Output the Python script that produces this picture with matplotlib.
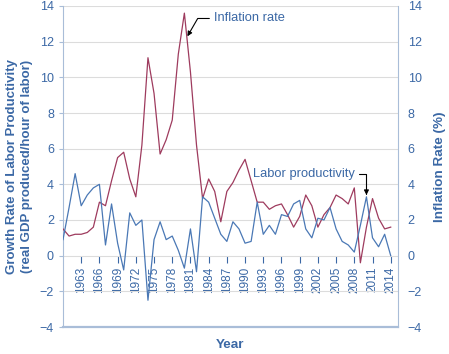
import matplotlib
matplotlib.use("Agg")
import matplotlib.pyplot as plt

# years 1960-2014
years = list(range(1960, 2015))

# labor productivity growth (%)
productivity = [0.9, 2.7, 4.6, 2.8, 3.4, 3.8, 4.0, 0.6, 2.9, 0.7,
                -0.8, 2.4, 1.7, 2.0, -2.5, 0.9, 1.9, 0.9, 1.1, 0.3,
                -0.7, 1.5, -0.9, 3.3, 3.0, 2.1, 1.2, 0.8, 1.9, 1.5,
                0.7, 0.8, 3.0, 1.2, 1.7, 1.2, 2.3, 2.2, 2.9, 3.1,
                1.5, 1.0, 2.1, 2.0, 2.7, 1.5, 0.8, 0.6, 0.2, 1.7,
                3.3, 1.0, 0.5, 1.2, 0.0]

# inflation rate (%)
inflation = [1.5, 1.1, 1.2, 1.2, 1.3, 1.6, 3.0, 2.8, 4.2, 5.5,
             5.8, 4.3, 3.3, 6.2, 11.1, 9.1, 5.7, 6.5, 7.6, 11.3,
             13.6, 10.3, 6.2, 3.2, 4.3, 3.6, 1.9, 3.6, 4.1, 4.8,
             5.4, 4.2, 3.0, 3.0, 2.6, 2.8, 2.9, 2.3, 1.6, 2.2,
             3.4, 2.8, 1.6, 2.3, 2.7, 3.4, 3.2, 2.9, 3.8, -0.4,
             1.6, 3.2, 2.1, 1.5, 1.6]

xtick_years = list(range(1963, 2015, 3))
yticks = list(range(-4, 15, 2))

blue = "#4a78b5"
red = "#9e3b5e"
txt = "#3b68a5"
spine_col = "#a9bdd8"

plt.rcParams["font.family"] = ["Liberation Sans", "DejaVu Sans"]

fig = plt.figure(figsize=(4.49, 3.54), dpi=100)
ax = fig.add_axes([63 / 449, 1 - 327 / 354, 335 / 449, 321 / 354])

ax.plot(years, inflation, color=red, lw=0.9, zorder=3)
ax.plot(years, productivity, color=blue, lw=0.9, zorder=3)

ax.set_xlim(1960, 2015.2)
ax.set_ylim(-4, 14)
ax.set_yticks(yticks)
ax.set_yticklabels([str(v).replace("-", "\u2212") for v in yticks])
ax.yaxis.grid(True, color="#dcdcdc", lw=0.8, zorder=0)
ax.set_axisbelow(True)

# x axis ticks sit on the zero line
ax.spines["bottom"].set_position(("data", 0))
ax.spines["bottom"].set_visible(False)
ax.spines["top"].set_visible(False)
ax.spines["left"].set_color(spine_col)
ax.spines["right"].set_color(spine_col)
ax.axhline(-4, color=spine_col, lw=1.6, clip_on=False, zorder=4)
ax.set_xticks(xtick_years)
ax.set_xticklabels([str(y) for y in xtick_years], rotation=90)
ax.tick_params(axis="x", direction="out", length=5, width=0.8, color=txt,
               labelcolor=txt, labelsize=8.5, pad=3)
ax.tick_params(axis="y", length=3, color=spine_col, labelcolor=txt, labelsize=9)

ax.set_ylabel("Growth Rate of Labor Productivity\n(real GDP produced/hour of labor)",
              color=txt, fontsize=9.5, fontweight="bold", labelpad=5, linespacing=1.3)
fig.text((63 + 398) / 2 / 449, 1 - 345 / 354, "Year", color=txt, fontsize=9.7,
         fontweight="bold", ha="center", va="center")

ax2 = ax.twinx()
ax2.set_ylim(-4, 14)
ax2.set_yticks(yticks)
ax2.set_yticklabels([str(v).replace("-", "\u2212") for v in yticks])
ax2.tick_params(axis="y", length=0, labelcolor=txt, labelsize=9, pad=7)
for s in ax2.spines.values():
    s.set_visible(False)
ax2.set_ylabel("Inflation Rate (%)", color=txt, fontsize=9.7, fontweight="bold", labelpad=9)

ax.annotate("Inflation rate", xy=(1980.5, 12.3), xytext=(1984.8, 13.3),
            color=txt, fontsize=9.3, va="center", ha="left",
            arrowprops=dict(arrowstyle="-|>", color="black", lw=0.8,
                            mutation_scale=7, shrinkA=1, shrinkB=0,
                            connectionstyle="angle,angleA=0,angleB=60,rad=0"))
ax.annotate("Labor productivity", xy=(2010, 3.4), xytext=(1991.3, 4.6),
            color=txt, fontsize=9.3, va="center", ha="left",
            arrowprops=dict(arrowstyle="-|>", color="black", lw=0.8,
                            mutation_scale=7, shrinkA=1, shrinkB=0,
                            connectionstyle="angle,angleA=0,angleB=90,rad=0"))

fig.savefig("out.png", dpi=100)
